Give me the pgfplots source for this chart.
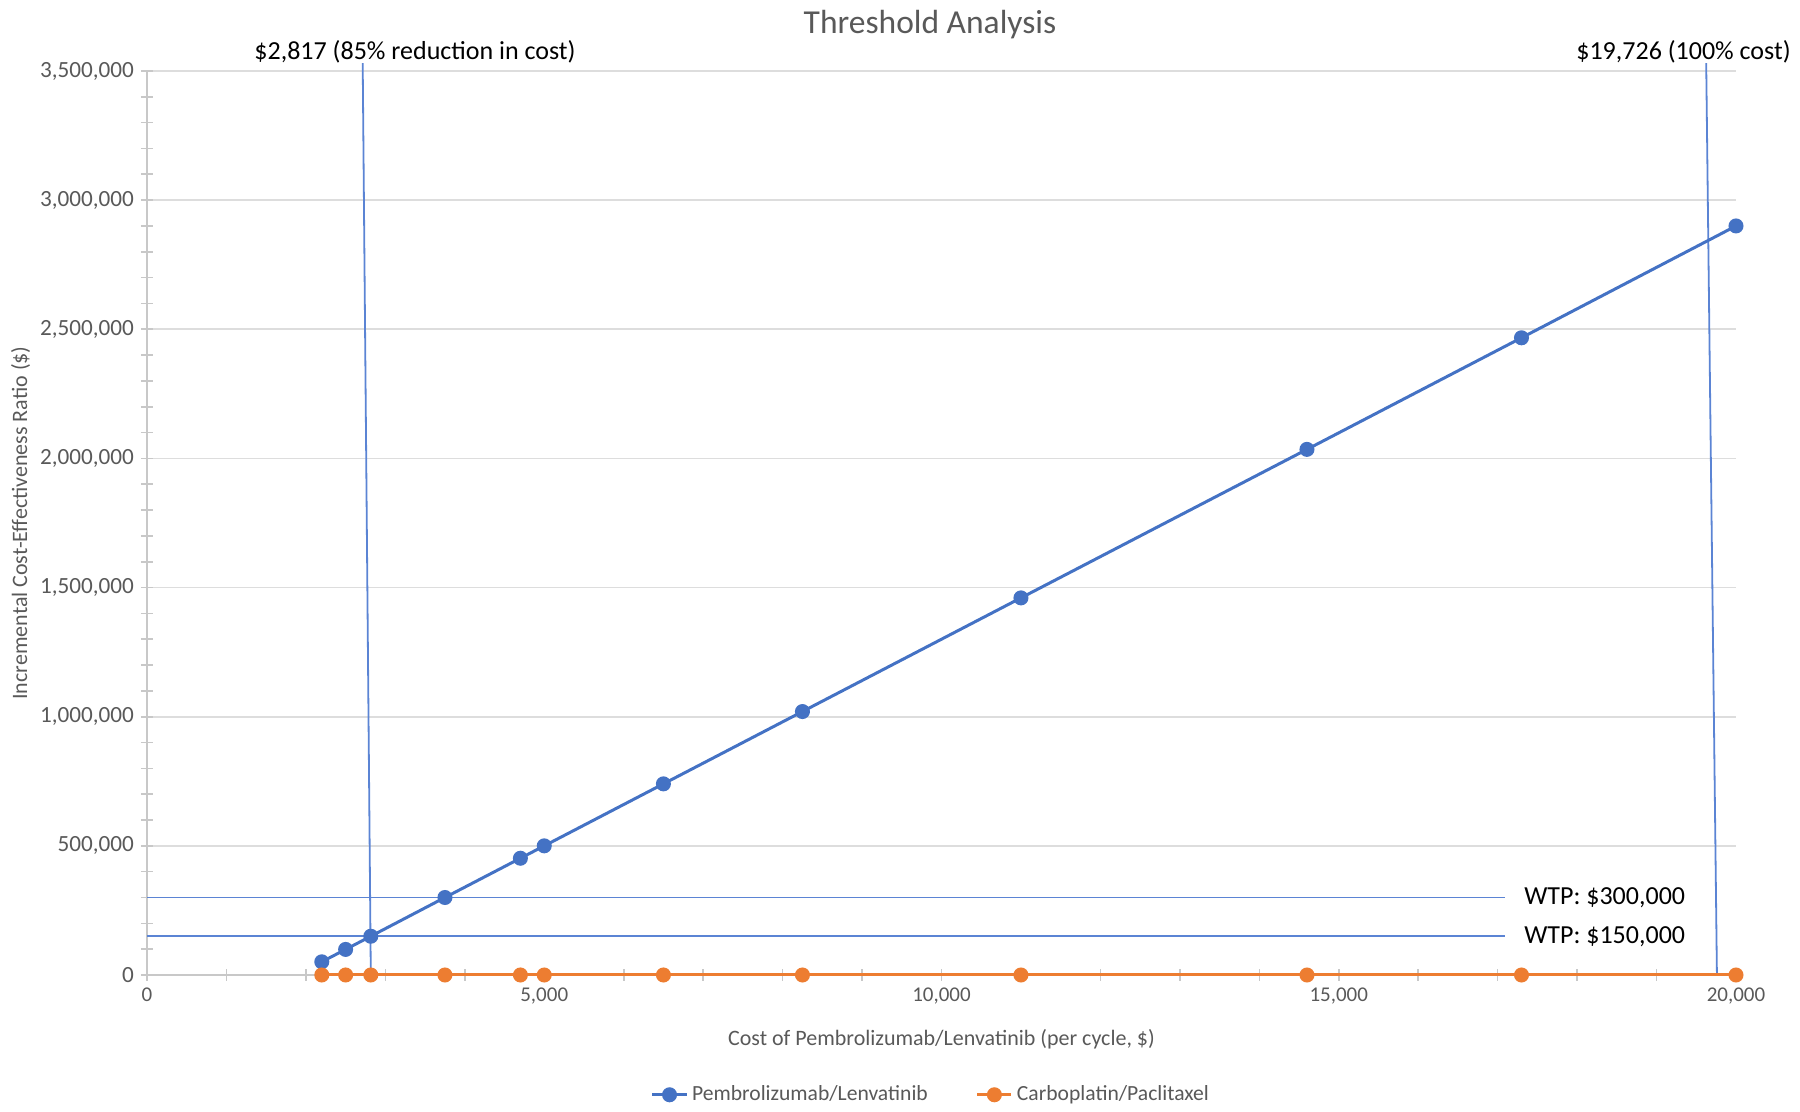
\documentclass[border=0pt]{standalone}
\usepackage{pgfplots}
\pgfplotsset{compat=1.18}
\usepackage{fontspec}
\setmainfont{Carlito}
\definecolor{xlblue}{HTML}{4472C4}
\definecolor{xlorange}{HTML}{ED7D31}
\definecolor{refblue}{HTML}{5B84D4}
\definecolor{txtgray}{HTML}{595959}
\definecolor{gridgray}{HTML}{DDDDDD}
\definecolor{axgray}{HTML}{C8C8C8}
\begin{document}
\begin{tikzpicture}
\begin{axis}[
  at={(73.5pt,68.5pt)}, anchor=south west,
  scale only axis, width=794.5pt, height=452pt,
  xmin=0, xmax=20000, ymin=0, ymax=3500000,
  axis x line=bottom, axis y line=left,
  axis line style={draw=axgray, line width=0.9pt, -},
  xtick={0,5000,10000,15000,20000}, minor x tick num=4,
  ytick={0,500000,1000000,1500000,2000000,2500000,3000000,3500000}, minor y tick num=4,
  scaled ticks=false,
  /pgf/number format/fixed,
  /pgf/number format/1000 sep={,},
  /pgf/number format/assume math mode=true,
  ymajorgrids, grid style={draw=gridgray, line width=0.9pt},
  tick style={draw=axgray, line width=0.8pt},
  tick align=center, major tick length=6pt, minor tick length=6pt,
  tick label style={text=txtgray},
  x tick label style={font=\fontsize{10.5}{12}\selectfont},
  y tick label style={font=\fontsize{11.6}{13}\selectfont},
  xlabel={Cost of Pembrolizumab/Lenvatinib (per cycle, \$)},
  ylabel={Incremental Cost-Effectiveness Ratio (\$)},
  label style={font=\fontsize{11}{13}\selectfont, text=txtgray},
  xlabel style={at={(axis description cs:0.5,-0.0708)}, anchor=center},
  ylabel style={at={(axis description cs:-0.0795,0.5)}, anchor=center},
  clip=false,
  legend style={at={(axis description cs:0.494,-0.1325)}, anchor=center, draw=none,
    legend columns=2, font=\fontsize{10.8}{13}\selectfont, text=txtgray,
    /tikz/every even column/.append style={column sep=22pt}},
  legend cell align=left,
]
% reference lines
\addplot[refblue, line width=0.9pt, forget plot] coordinates {(0,300000) (17090,300000)};
\addplot[refblue, line width=0.9pt, forget plot] coordinates {(0,150000) (17090,150000)};
\addplot[refblue, line width=0.9pt, forget plot] coordinates {(2817,0) (2715,3530000)};
\addplot[refblue, line width=0.9pt, forget plot] coordinates {(19760,0) (19625,3530000)};
% series
\addplot[xlblue, line width=1.5pt, mark=*, mark size=3pt, mark options={fill=xlblue, draw=xlblue}]
  coordinates {(2200,51000) (2500,99000) (2817,150000) (3750,300000) (4700,452000) (5000,500000)
  (6500,740000) (8250,1020000) (11000,1460000) (14600,2035000) (17300,2467000) (20000,2900000)};
\addlegendentry{Pembrolizumab/Lenvatinib}
\addplot[xlorange, line width=1.5pt, mark=*, mark size=3pt, mark options={fill=xlorange, draw=xlorange}]
  coordinates {(2200,0) (2500,0) (2817,0) (3750,0) (4700,0) (5000,0)
  (6500,0) (8250,0) (11000,0) (14600,0) (17300,0) (20000,0)};
\addlegendentry{Carboplatin/Paclitaxel}
\node[anchor=west, inner sep=0pt, font=\fontsize{13}{15}\selectfont] at (axis cs:17330,300000) {WTP: \$300,000};
\node[anchor=west, inner sep=0pt, font=\fontsize{13}{15}\selectfont] at (axis cs:17330,150000) {WTP: \$150,000};
\end{axis}
\node[inner sep=0pt, font=\fontsize{16.75}{20}\selectfont, text=txtgray] at (465pt,543.8pt) {Threshold Analysis};
\node[inner sep=0pt, font=\fontsize{13}{15}\selectfont] at (207.5pt,530pt) {\$2,817 (85\% reduction in cost)};
\node[anchor=east, inner sep=0pt, font=\fontsize{13}{15}\selectfont] at (895.5pt,530pt) {\$19,726 (100\% cost)};
\pgfresetboundingbox
\path (0,0) rectangle (900pt,556pt);
\end{tikzpicture}
\end{document}
